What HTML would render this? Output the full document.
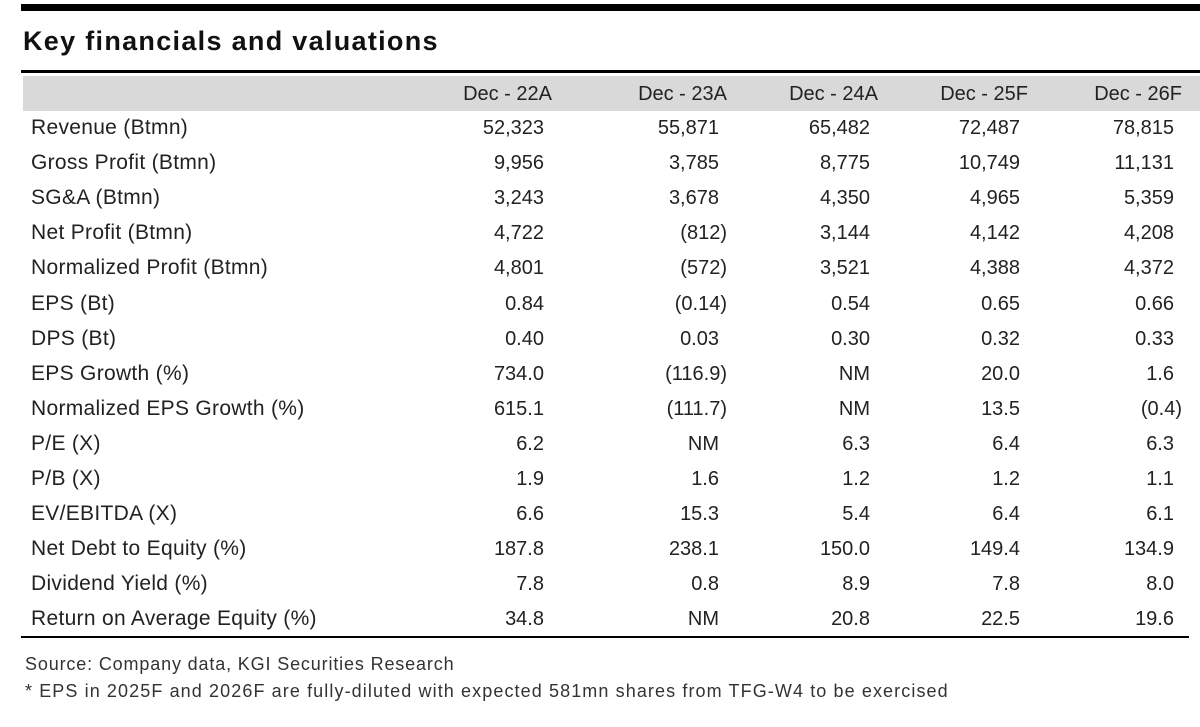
<!DOCTYPE html>
<html><head><meta charset="utf-8"><style>
body{margin:0;width:1200px;height:727px;background:#fff;position:relative;overflow:hidden;font-family:"Liberation Sans",sans-serif;color:#222}
.bar{position:absolute;left:21px;top:4px;width:1179px;height:7px;background:#000}
.title{position:absolute;left:23px;top:26px;font:bold 27px "Liberation Sans",sans-serif;letter-spacing:1.3px;color:#111}
.ln{position:absolute;left:21px;top:70px;width:1179px;height:3px;background:#000}
.band{position:absolute;left:23px;top:76px;width:1177px;height:35px;background:#d9d9d9}
.r{position:absolute;left:0;width:1200px;height:30px;font-size:20px;line-height:30px}
.r span{position:absolute;white-space:nowrap}
.l{left:31px;font-size:21px;letter-spacing:0.3px}
.c{text-align:right;width:150px}
.p{padding-right:8px}
.bot{position:absolute;left:21px;top:636px;width:1168px;height:2px;background:#000}
.src{position:absolute;left:25px;font:18px "Liberation Sans",sans-serif;color:#333}
</style></head><body>
<div class="bar"></div>
<div class="title">Key financials and valuations</div>
<div class="ln"></div>
<div class="band"></div>
<div id="t"></div>
<div class="bot"></div>
<div class="src" style="top:654px;letter-spacing:0.85px">Source: Company data, KGI Securities Research</div>
<div class="src" style="top:681px;letter-spacing:1.1px">* EPS in 2025F and 2026F are fully-diluted with expected 581mn shares from TFG-W4 to be exercised</div>
<script>
var rows=[["","Dec - 22A","Dec - 23A","Dec - 24A","Dec - 25F","Dec - 26F"],
["Revenue (Btmn)","52,323","55,871","65,482","72,487","78,815"],
["Gross Profit (Btmn)","9,956","3,785","8,775","10,749","11,131"],
["SG&A (Btmn)","3,243","3,678","4,350","4,965","5,359"],
["Net Profit (Btmn)","4,722","(812)","3,144","4,142","4,208"],
["Normalized Profit (Btmn)","4,801","(572)","3,521","4,388","4,372"],
["EPS (Bt)","0.84","(0.14)","0.54","0.65","0.66"],
["DPS (Bt)","0.40","0.03","0.30","0.32","0.33"],
["EPS Growth (%)","734.0","(116.9)","NM","20.0","1.6"],
["Normalized EPS Growth (%)","615.1","(111.7)","NM","13.5","(0.4)"],
["P/E (X)","6.2","NM","6.3","6.4","6.3"],
["P/B (X)","1.9","1.6","1.2","1.2","1.1"],
["EV/EBITDA (X)","6.6","15.3","5.4","6.4","6.1"],
["Net Debt to Equity (%)","187.8","238.1","150.0","149.4","134.9"],
["Dividend Yield (%)","7.8","0.8","8.9","7.8","8.0"],
["Return on Average Equity (%)","34.8","NM","20.8","22.5","19.6"]];
var R=[552,727,878,1028,1182],h="";
rows.forEach(function(r,i){var top=i==0?79:113+(i-1)*35.1;
h+='<div class="r" style="top:'+top+'px"><span class="l">'+r[0].replace("&","&amp;")+'</span>';
for(var j=1;j<6;j++){var v=r[j],pr=(i>0&&v.slice(-1)!=")")?" p":"";
h+='<span class="c'+pr+'" style="left:'+(R[j-1]-150-(pr?8:0))+'px">'+v+'</span>';}
h+='</div>';});
document.getElementById("t").innerHTML=h;
</script>
</body></html>
